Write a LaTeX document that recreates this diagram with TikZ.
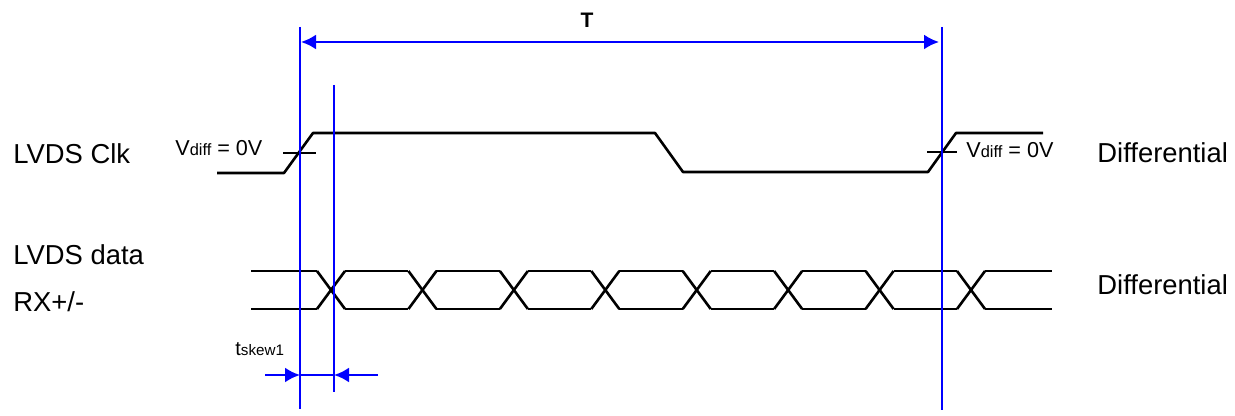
\documentclass[tikz,border=0pt]{standalone}
\usepackage{fontspec}
\setmainfont{Liberation Sans}
\usetikzlibrary{arrows.meta}

\begin{document}
\begin{tikzpicture}[x=0.5pt,y=-0.5pt]
  \tikzset{sig/.style = {draw=black,line width=1.3pt,line join=round}}
  \tikzset{cursor/.style = {draw=blue,line width=0.7pt}}
  \tikzset{dim/.style = {draw=blue,line width=1.2pt,-{Latex[length=7.5pt,width=7.5pt]}}}
  \tikzset{lbl/.style = {inner sep=0pt,anchor=base west,font=\fontsize{13.7}{15}\selectfont}}
  \tikzset{vlbl/.style = {inner sep=0pt,anchor=base west,font=\fontsize{10.8}{12}\selectfont}}

\useasboundingbox (0,0) rectangle (1235,416);

\node[lbl] (clk)  at (13,164) {LVDS Clk};
\node[lbl] (data) at (13,265) {LVDS data};
\node[lbl] (rx)   at (13,312) {RX+/-};
\node[lbl] (dclk) at (1097,163) {Differential};
\node[lbl] (ddat) at (1097,295) {Differential};

\node[vlbl] (vl) at (175,156) {V{\fontsize{8.2}{9}\selectfont diff} = 0V};
\node[vlbl] (vr) at (966,158) {V{\fontsize{8.2}{9}\selectfont diff} = 0V};
\node[vlbl,font=\fontsize{10}{12}\selectfont] (ts) at (235,355) {t{\fontsize{7.6}{9}\selectfont skew1}};
\node[inner sep=0pt,anchor=base,font=\fontsize{10.5}{12}\selectfont\bfseries] (T) at (587,28) {T};

% clock
\draw[sig] (217,173) -- (284,173) -- (313,133) -- (655,133) -- (683,172)
  -- (928,172) -- (956,133) -- (1043,133);
\draw[sig] (283,153) -- (316,153);
\draw[sig] (927,152) -- (957,152);

% data eye
\draw[sig] (251,271) -- (317,271);
\draw[sig] (251,309) -- (317,309);
\foreach \i in {0,...,7}{
  \pgfmathsetmacro\c{331+91.43*\i}
  \draw[sig] (\c-14,271) -- (\c+14,309);
  \draw[sig] (\c-14,309) -- (\c+14,271);
}
\foreach \i in {0,...,6}{
  \pgfmathsetmacro\a{331+91.43*\i+14}
  \pgfmathsetmacro\b{331+91.43*(\i+1)-14}
  \draw[sig] (\a,271) -- (\b,271);
  \draw[sig] (\a,309) -- (\b,309);
}
\draw[sig] (985,271) -- (1052,271);
\draw[sig] (985,309) -- (1052,309);

% cursors
\coordinate (c1t) at (300,27);  \coordinate (c1b) at (300,409);
\coordinate (c2t) at (334,85);  \coordinate (c2b) at (334,392);
\coordinate (c3t) at (942,27);  \coordinate (c3b) at (942,410);
\path[cursor] (c1t) edge (c1b) (c2t) edge (c2b) (c3t) edge (c3b);

\coordinate (tl) at (301,42);  \coordinate (tr) at (939,42);
\draw[dim,{Latex[length=7.5pt,width=7.5pt]}-{Latex[length=7.5pt,width=7.5pt]}] (tl) -- (tr);

\coordinate (sl) at (265,375); \coordinate (sr) at (378,375);
\coordinate (s1) at (300,375); \coordinate (s2) at (334,375);
\draw[dim] (sl) -- (s1);
\draw[dim] (sr) -- (s2);
\draw[cursor] (s1) -- (s2);

\end{tikzpicture}
\end{document}
